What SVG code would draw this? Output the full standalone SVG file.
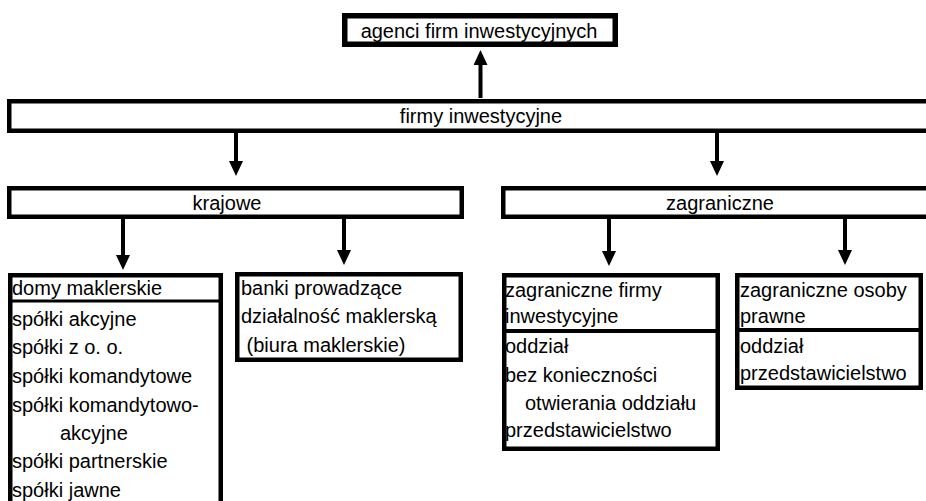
<svg xmlns="http://www.w3.org/2000/svg" width="926" height="501" viewBox="0 0 926 501">
<defs>
<style>
.box{fill:#fff;stroke:#000;stroke-width:4.5}
.sep{stroke:#000;stroke-width:3}
.t{font-family:"Liberation Sans",Arial,sans-serif;font-size:20px;fill:#000}
.c{text-anchor:middle}
.arr{stroke:#000;stroke-width:4;fill:none;marker-end:url(#ah)}
</style>
<marker id="ah" viewBox="0 0 15 14" refX="1" refY="7" markerWidth="15" markerHeight="14" markerUnits="userSpaceOnUse" orient="auto">
<path d="M0,0 L15,7 L0,14 z" fill="#000"/>
</marker>
</defs>
<rect width="926" height="501" fill="#fff"/>
<g id="connectors">
<line class="arr" x1="480.5" y1="98" x2="480.5" y2="64"/>
<line class="arr" x1="236" y1="133" x2="236" y2="162"/>
<line class="arr" x1="717" y1="131" x2="717" y2="162"/>
<line class="arr" x1="123" y1="219" x2="123" y2="256"/>
<line class="arr" x1="344" y1="219" x2="344" y2="251"/>
<line class="arr" x1="609" y1="219" x2="609" y2="252"/>
<line class="arr" x1="845" y1="219" x2="845" y2="251"/>
</g>
<g id="agenci">
<rect class="box" x="344.75" y="15.75" width="270.5" height="28.5" style="stroke-width:5.5"/>
<text class="t c" x="479" y="38">agenci firm inwestycyjnych</text>
</g>
<g id="firmy">
<rect class="box" x="9.25" y="101.25" width="930" height="29.5"/>
<text class="t c" x="481" y="123">firmy inwestycyjne</text>
</g>
<g id="krajowe">
<rect class="box" x="9.25" y="188.25" width="452.5" height="28.5"/>
<text class="t c" x="227" y="209.5">krajowe</text>
</g>
<g id="zagraniczne">
<rect class="box" x="503.25" y="188.25" width="440" height="28.5"/>
<text class="t c" x="720" y="209.5">zagraniczne</text>
</g>
<g id="domy">
<rect class="box" x="10.25" y="275.25" width="210.5" height="240"/>
<line class="sep" x1="10" y1="301" x2="221" y2="301"/>
<text class="t" x="12" y="295">domy maklerskie</text>
<text class="t" x="12" y="326">spółki akcyjne</text>
<text class="t" x="12" y="354">spółki z o. o.</text>
<text class="t" x="12" y="383">spółki komandytowe</text>
<text class="t" x="12" y="412">spółki komandytowo-</text>
<text class="t" x="60" y="440">akcyjne</text>
<text class="t" x="12" y="468">spółki partnerskie</text>
<text class="t" x="12" y="497">spółki jawne</text>
</g>
<g id="banki">
<rect class="box" x="237.25" y="274.25" width="223.5" height="85.5"/>
<text class="t" x="241" y="295">banki prowadzące</text>
<text class="t" x="241" y="323">działalność maklerską</text>
<text class="t" x="241" y="352" xml:space="preserve"> (biura maklerskie)</text>
</g>
<g id="zagr-firmy">
<rect class="box" x="504.25" y="275.25" width="213.5" height="173.5"/>
<line class="sep" x1="504" y1="331" x2="718" y2="331" style="stroke-width:4"/>
<text class="t" x="505" y="297">zagraniczne firmy</text>
<text class="t" x="505" y="323">inwestycyjne</text>
<text class="t" x="505" y="353">oddział</text>
<text class="t" x="505" y="382">bez konieczności</text>
<text class="t" x="525" y="410">otwierania oddziału</text>
<text class="t" x="505" y="437">przedstawicielstwo</text>
</g>
<g id="zagr-osoby">
<rect class="box" x="737.25" y="275.25" width="183.5" height="112.5"/>
<line class="sep" x1="737" y1="330" x2="921" y2="330" style="stroke-width:4"/>
<text class="t" x="740" y="297">zagraniczne osoby</text>
<text class="t" x="740" y="323">prawne</text>
<text class="t" x="740" y="353">oddział</text>
<text class="t" x="740" y="380">przedstawicielstwo</text>
</g>
</svg>
